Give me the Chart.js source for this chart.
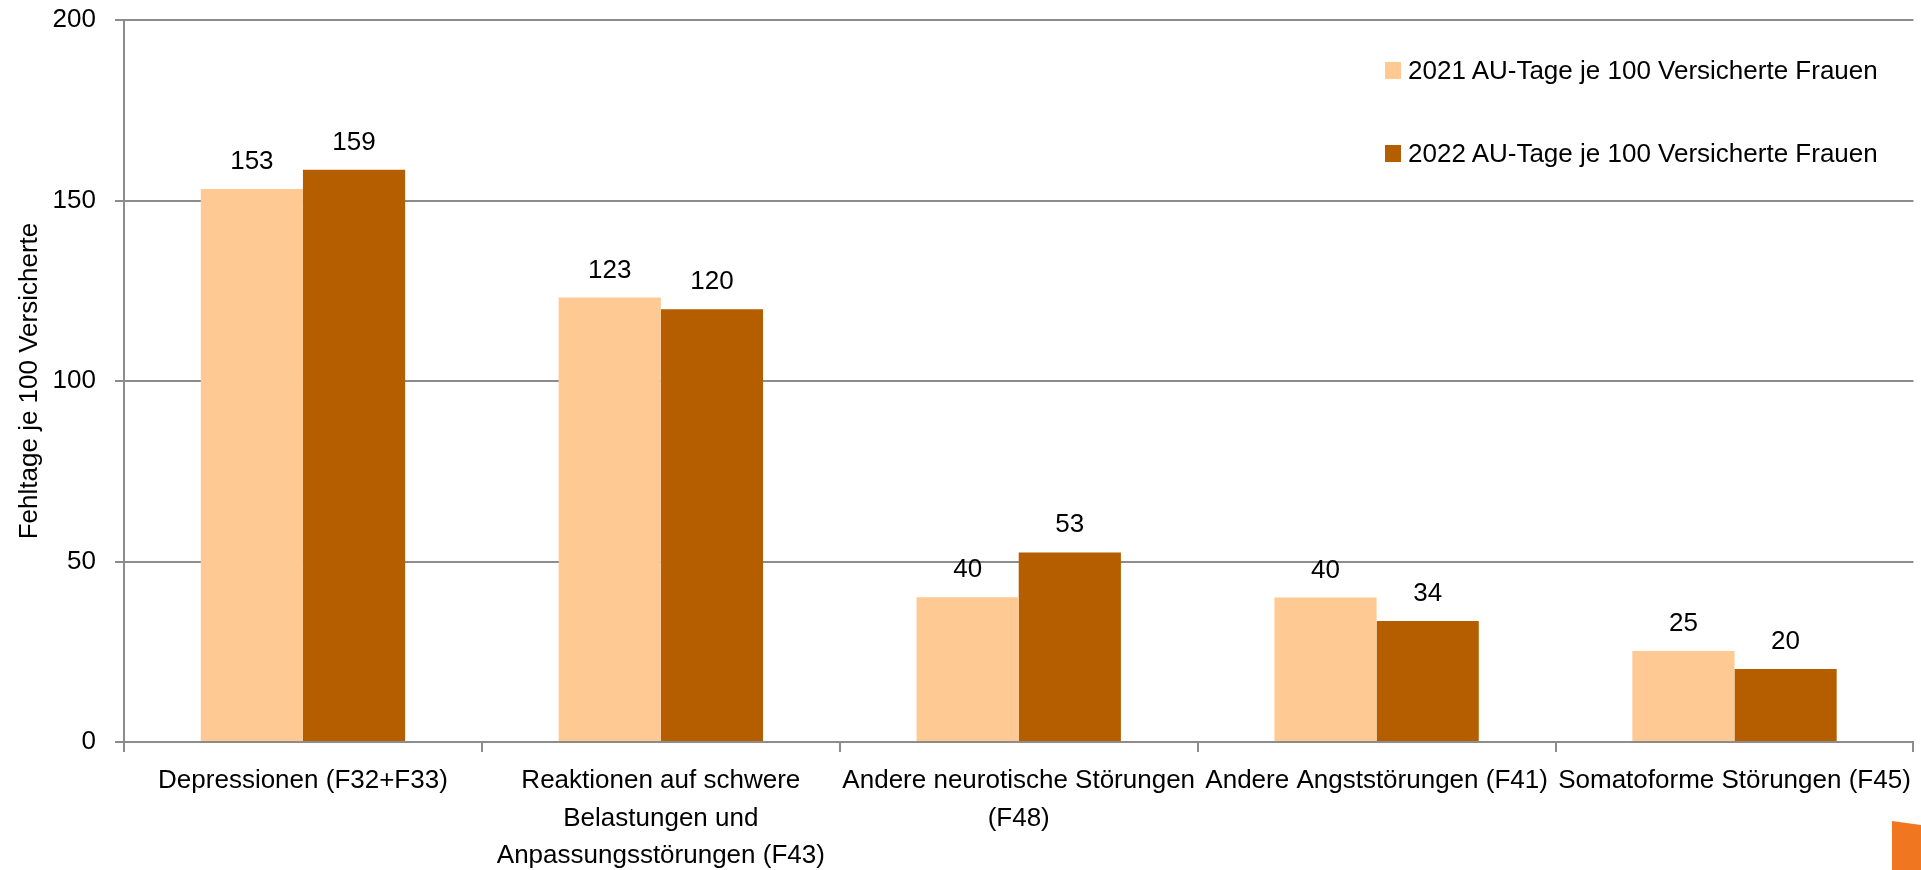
<!DOCTYPE html>
<html lang="de">
<head>
  <meta charset="UTF-8" />
  <title>Fehltage je 100 Versicherte</title>
  <script src="https://cdn.jsdelivr.net/npm/chart.js"></script>
  <style>
    body {
      margin: 0;
      background: #fff;
      font-family: "Liberation Sans", Arial, sans-serif;
    }
    .wrap {
      position: relative;
      width: 1921px;
      height: 870px;
      overflow: hidden;
    }
    .legend {
      position: absolute;
      left: 1385px;
      top: 52px;
    }
    .legend-item {
      display: flex;
      align-items: center;
      height: 36px;
      margin-bottom: 47px;
      font-size: 26px;
      color: #000;
    }
    .legend-item span.box {
      width: 16px;
      height: 17px;
      margin-right: 7px;
    }
    .corner {
      position: absolute;
      left: 1892px;
      top: 821px;
      width: 29px;
      height: 49px;
      background: #F07620;
      clip-path: polygon(0 0, 100% 8%, 100% 100%, 0 100%);
    }
  </style>
</head>
<body>
  <div class="wrap">
    <canvas id="chart" width="1921" height="870"></canvas>
    <div class="legend" id="legend"></div>
    <div class="corner"></div>
  </div>

  <script>
    const categories = [
      "Depressionen (F32+F33)",
      ["Reaktionen auf schwere", "Belastungen und", "Anpassungsstörungen (F43)"],
      ["Andere neurotische Störungen", "(F48)"],
      "Andere Angststörungen (F41)",
      "Somatoforme Störungen (F45)"
    ];
    const seriesNames = [
      "2021 AU-Tage je 100 Versicherte Frauen",
      "2022 AU-Tage je 100 Versicherte Frauen"
    ];
    const values2021 = [153.2, 123.1, 40.1, 40.0, 25.2];
    const values2022 = [158.5, 119.9, 52.5, 33.5, 20.2];
    const seriesColors = ["#FFC993", "#B45E00"];

    const gridGray = "#8c8c8c";
    const labelFont = { family: "'Liberation Sans', Arial, sans-serif", size: 26 };

    // Werte über den Balken
    const valueLabels = {
      id: "valueLabels",
      afterDatasetsDraw(chart) {
        const ctx = chart.ctx;
        ctx.save();
        ctx.font = "26px 'Liberation Sans', Arial, sans-serif";
        ctx.fillStyle = "#000";
        ctx.textAlign = "center";
        ctx.textBaseline = "alphabetic";
        chart.data.datasets.forEach((ds, i) => {
          chart.getDatasetMeta(i).data.forEach((bar, j) => {
            ctx.fillText(Math.round(ds.data[j]), bar.x, bar.y - 20);
          });
        });
        ctx.restore();
      }
    };

    new Chart(document.getElementById("chart"), {
      type: "bar",
      data: {
        labels: categories,
        datasets: [
          { label: seriesNames[0], data: values2021, backgroundColor: seriesColors[0] },
          { label: seriesNames[1], data: values2022, backgroundColor: seriesColors[1] }
        ]
      },
      options: {
        responsive: false,
        animation: false,
        devicePixelRatio: 1,
        categoryPercentage: 0.571,
        barPercentage: 1,
        layout: { padding: { top: 20, right: 2, left: 0, bottom: 0 } },
        plugins: {
          legend: { display: false },
          tooltip: { enabled: false }
        },
        scales: {
          x: {
            afterFit: (scale) => { scale.height = 128; },
            grid: {
              offset: true,
              drawOnChartArea: false,
              drawTicks: true,
              tickLength: 10,
              color: gridGray,
              lineWidth: 2
            },
            border: { color: gridGray, width: 2 },
            ticks: {
              color: "#000",
              font: { ...labelFont, lineHeight: 1.45 },
              padding: 10,
              maxRotation: 0,
              autoSkip: false
            }
          },
          y: {
            min: 0,
            max: 200,
            afterFit: (scale) => {
              scale.width = 124;
              scale.paddingTop = 0;
              scale.paddingBottom = 0;
            },
            grid: { color: gridGray, lineWidth: 2, tickLength: 9 },
            border: { color: gridGray, width: 2 },
            ticks: {
              stepSize: 50,
              color: "#000",
              font: labelFont,
              padding: 19
            },
            title: {
              display: true,
              text: "Fehltage je 100 Versicherte",
              color: "#000",
              font: labelFont,
              padding: { top: 14, bottom: 0 }
            }
          }
        }
      },
      plugins: [valueLabels]
    });

    const legend = document.getElementById("legend");
    seriesNames.forEach((name, i) => {
      const item = document.createElement("div");
      item.className = "legend-item";
      const box = document.createElement("span");
      box.className = "box";
      box.style.background = seriesColors[i];
      item.appendChild(box);
      item.appendChild(document.createTextNode(name));
      legend.appendChild(item);
    });
  </script>
</body>
</html>
